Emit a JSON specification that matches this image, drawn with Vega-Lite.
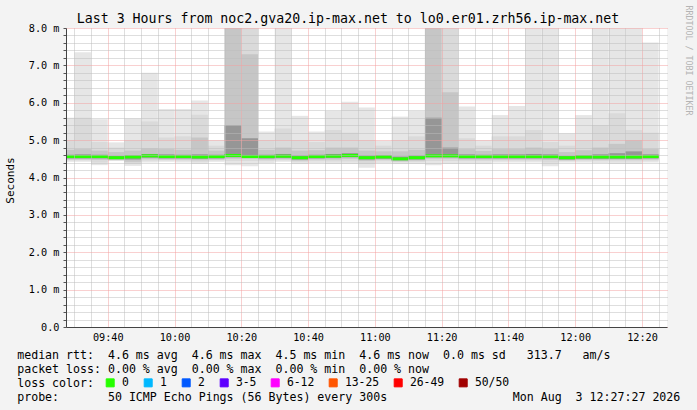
{
  "$schema": "https://vega.github.io/schema/vega-lite/v6.json",
  "width": 601,
  "height": 299,
  "autosize": "none",
  "padding": {"left": 66, "top": 28, "right": 30, "bottom": 83},
  "background": "#f3f3f3",
  "data": {"values": [
    {"t":"2026-08-03T09:25:00","t2":"2026-08-03T09:30:00","mn":4.42,"p10":4.46,"p25":4.48,"p40":4.51,"med":4.56,"p60":4.61,"p75":4.74,"p90":5.00,"mx":5.60,"loss":"0"},
    {"t":"2026-08-03T09:30:00","t2":"2026-08-03T09:35:00","mn":4.42,"p10":4.46,"p25":4.48,"p40":4.51,"med":4.56,"p60":4.62,"p75":4.76,"p90":5.60,"mx":7.35,"loss":"0"},
    {"t":"2026-08-03T09:35:00","t2":"2026-08-03T09:40:00","mn":4.33,"p10":4.40,"p25":4.47,"p40":4.51,"med":4.56,"p60":4.61,"p75":4.72,"p90":4.95,"mx":5.56,"loss":"0"},
    {"t":"2026-08-03T09:40:00","t2":"2026-08-03T09:45:00","mn":4.44,"p10":4.46,"p25":4.47,"p40":4.49,"med":4.53,"p60":4.58,"p75":4.68,"p90":4.80,"mx":4.94,"loss":"0"},
    {"t":"2026-08-03T09:45:00","t2":"2026-08-03T09:50:00","mn":4.31,"p10":4.37,"p25":4.42,"p40":4.48,"med":4.55,"p60":4.60,"p75":4.72,"p90":5.00,"mx":5.58,"loss":"0"},
    {"t":"2026-08-03T09:50:00","t2":"2026-08-03T09:55:00","mn":4.40,"p10":4.45,"p25":4.49,"p40":4.53,"med":4.58,"p60":4.63,"p75":4.78,"p90":5.50,"mx":6.80,"loss":"0"},
    {"t":"2026-08-03T09:55:00","t2":"2026-08-03T10:00:00","mn":4.42,"p10":4.46,"p25":4.48,"p40":4.51,"med":4.56,"p60":4.62,"p75":4.76,"p90":5.07,"mx":5.83,"loss":"0"},
    {"t":"2026-08-03T10:00:00","t2":"2026-08-03T10:05:00","mn":4.40,"p10":4.45,"p25":4.48,"p40":4.51,"med":4.56,"p60":4.61,"p75":4.74,"p90":5.10,"mx":5.83,"loss":"0"},
    {"t":"2026-08-03T10:05:00","t2":"2026-08-03T10:10:00","mn":4.36,"p10":4.42,"p25":4.46,"p40":4.50,"med":4.55,"p60":4.62,"p75":5.07,"p90":5.68,"mx":6.06,"loss":"0"},
    {"t":"2026-08-03T10:10:00","t2":"2026-08-03T10:15:00","mn":4.42,"p10":4.46,"p25":4.48,"p40":4.51,"med":4.56,"p60":4.61,"p75":4.72,"p90":4.85,"mx":5.00,"loss":"0"},
    {"t":"2026-08-03T10:15:00","t2":"2026-08-03T10:20:00","mn":4.33,"p10":4.44,"p25":4.50,"p40":4.54,"med":4.59,"p60":5.40,"p75":9.00,"p90":10.0,"mx":10.0,"loss":"0"},
    {"t":"2026-08-03T10:20:00","t2":"2026-08-03T10:25:00","mn":4.30,"p10":4.44,"p25":4.50,"p40":4.53,"med":4.56,"p60":5.05,"p75":7.30,"p90":10.0,"mx":10.0,"loss":"0"},
    {"t":"2026-08-03T10:25:00","t2":"2026-08-03T10:30:00","mn":4.38,"p10":4.44,"p25":4.48,"p40":4.51,"med":4.56,"p60":4.61,"p75":4.74,"p90":5.00,"mx":5.23,"loss":"0"},
    {"t":"2026-08-03T10:30:00","t2":"2026-08-03T10:35:00","mn":4.42,"p10":4.46,"p25":4.49,"p40":4.52,"med":4.57,"p60":4.63,"p75":4.80,"p90":5.31,"mx":10.0,"loss":"0"},
    {"t":"2026-08-03T10:35:00","t2":"2026-08-03T10:40:00","mn":4.36,"p10":4.42,"p25":4.45,"p40":4.48,"med":4.53,"p60":4.59,"p75":4.72,"p90":5.00,"mx":5.65,"loss":"0"},
    {"t":"2026-08-03T10:40:00","t2":"2026-08-03T10:45:00","mn":4.38,"p10":4.44,"p25":4.48,"p40":4.51,"med":4.56,"p60":4.61,"p75":4.73,"p90":4.95,"mx":5.23,"loss":"0"},
    {"t":"2026-08-03T10:45:00","t2":"2026-08-03T10:50:00","mn":4.36,"p10":4.43,"p25":4.48,"p40":4.52,"med":4.57,"p60":4.63,"p75":4.80,"p90":5.27,"mx":5.78,"loss":"0"},
    {"t":"2026-08-03T10:50:00","t2":"2026-08-03T10:55:00","mn":4.36,"p10":4.43,"p25":4.50,"p40":4.54,"med":4.59,"p60":4.65,"p75":4.80,"p90":5.20,"mx":6.03,"loss":"0"},
    {"t":"2026-08-03T10:55:00","t2":"2026-08-03T11:00:00","mn":4.26,"p10":4.36,"p25":4.44,"p40":4.48,"med":4.53,"p60":4.59,"p75":4.72,"p90":5.00,"mx":5.87,"loss":"0"},
    {"t":"2026-08-03T11:00:00","t2":"2026-08-03T11:05:00","mn":4.38,"p10":4.44,"p25":4.47,"p40":4.50,"med":4.55,"p60":4.60,"p75":4.70,"p90":4.85,"mx":4.98,"loss":"0"},
    {"t":"2026-08-03T11:05:00","t2":"2026-08-03T11:10:00","mn":4.36,"p10":4.41,"p25":4.43,"p40":4.46,"med":4.50,"p60":4.56,"p75":4.70,"p90":5.00,"mx":5.63,"loss":"0"},
    {"t":"2026-08-03T11:10:00","t2":"2026-08-03T11:15:00","mn":4.36,"p10":4.42,"p25":4.45,"p40":4.48,"med":4.53,"p60":4.59,"p75":4.74,"p90":5.10,"mx":5.78,"loss":"0"},
    {"t":"2026-08-03T11:15:00","t2":"2026-08-03T11:20:00","mn":4.33,"p10":4.44,"p25":4.50,"p40":4.54,"med":4.58,"p60":5.60,"p75":9.00,"p90":10.0,"mx":10.0,"loss":"0"},
    {"t":"2026-08-03T11:20:00","t2":"2026-08-03T11:25:00","mn":4.36,"p10":4.44,"p25":4.50,"p40":4.54,"med":4.58,"p60":4.80,"p75":6.28,"p90":10.0,"mx":10.0,"loss":"0"},
    {"t":"2026-08-03T11:25:00","t2":"2026-08-03T11:30:00","mn":4.36,"p10":4.44,"p25":4.48,"p40":4.51,"med":4.56,"p60":4.62,"p75":4.76,"p90":5.05,"mx":5.90,"loss":"0"},
    {"t":"2026-08-03T11:30:00","t2":"2026-08-03T11:35:00","mn":4.36,"p10":4.44,"p25":4.48,"p40":4.51,"med":4.56,"p60":4.61,"p75":4.71,"p90":4.85,"mx":5.00,"loss":"0"},
    {"t":"2026-08-03T11:35:00","t2":"2026-08-03T11:40:00","mn":4.40,"p10":4.45,"p25":4.48,"p40":4.51,"med":4.56,"p60":4.62,"p75":4.76,"p90":5.10,"mx":5.67,"loss":"0"},
    {"t":"2026-08-03T11:40:00","t2":"2026-08-03T11:45:00","mn":4.40,"p10":4.45,"p25":4.48,"p40":4.51,"med":4.56,"p60":4.62,"p75":4.76,"p90":5.10,"mx":5.91,"loss":"0"},
    {"t":"2026-08-03T11:45:00","t2":"2026-08-03T11:50:00","mn":4.40,"p10":4.45,"p25":4.48,"p40":4.51,"med":4.56,"p60":4.63,"p75":4.80,"p90":5.27,"mx":10.0,"loss":"0"},
    {"t":"2026-08-03T11:50:00","t2":"2026-08-03T11:55:00","mn":4.30,"p10":4.40,"p25":4.47,"p40":4.51,"med":4.56,"p60":4.62,"p75":4.76,"p90":4.95,"mx":10.0,"loss":"0"},
    {"t":"2026-08-03T11:55:00","t2":"2026-08-03T12:00:00","mn":4.40,"p10":4.44,"p25":4.46,"p40":4.48,"med":4.53,"p60":4.58,"p75":4.68,"p90":4.85,"mx":5.18,"loss":"0"},
    {"t":"2026-08-03T12:00:00","t2":"2026-08-03T12:05:00","mn":4.40,"p10":4.45,"p25":4.47,"p40":4.50,"med":4.55,"p60":4.60,"p75":4.73,"p90":5.00,"mx":5.67,"loss":"0"},
    {"t":"2026-08-03T12:05:00","t2":"2026-08-03T12:10:00","mn":4.38,"p10":4.44,"p25":4.47,"p40":4.50,"med":4.55,"p60":4.62,"p75":4.80,"p90":5.40,"mx":10.0,"loss":"0"},
    {"t":"2026-08-03T12:10:00","t2":"2026-08-03T12:15:00","mn":4.36,"p10":4.43,"p25":4.47,"p40":4.50,"med":4.55,"p60":4.65,"p75":4.90,"p90":5.72,"mx":10.0,"loss":"0"},
    {"t":"2026-08-03T12:15:00","t2":"2026-08-03T12:20:00","mn":4.36,"p10":4.43,"p25":4.47,"p40":4.50,"med":4.55,"p60":4.70,"p75":5.00,"p90":5.27,"mx":10.0,"loss":"0"},
    {"t":"2026-08-03T12:20:00","t2":"2026-08-03T12:25:00","mn":4.40,"p10":4.45,"p25":4.48,"p40":4.51,"med":4.56,"p60":4.62,"p75":4.76,"p90":5.20,"mx":7.61,"loss":"0"}
  ]},
  "layer": [
    {
      "mark": {"type": "rect", "color": "#e6e6e6", "clip": true},
      "encoding": {
        "x": {
          "field": "t", "type": "temporal",
          "scale": {"domain": [
            {"year": 2026, "month": 8, "date": 3, "hours": 9, "minutes": 27, "seconds": 30},
            {"year": 2026, "month": 8, "date": 3, "hours": 12, "minutes": 27, "seconds": 30}
          ]},
          "axis": {
            "orient": "bottom",
            "values": [
              {"year": 2026, "month": 8, "date": 3, "hours": 9, "minutes": 30},
              {"year": 2026, "month": 8, "date": 3, "hours": 9, "minutes": 35},
              {"year": 2026, "month": 8, "date": 3, "hours": 9, "minutes": 40},
              {"year": 2026, "month": 8, "date": 3, "hours": 9, "minutes": 45},
              {"year": 2026, "month": 8, "date": 3, "hours": 9, "minutes": 50},
              {"year": 2026, "month": 8, "date": 3, "hours": 9, "minutes": 55},
              {"year": 2026, "month": 8, "date": 3, "hours": 10, "minutes": 0},
              {"year": 2026, "month": 8, "date": 3, "hours": 10, "minutes": 5},
              {"year": 2026, "month": 8, "date": 3, "hours": 10, "minutes": 10},
              {"year": 2026, "month": 8, "date": 3, "hours": 10, "minutes": 15},
              {"year": 2026, "month": 8, "date": 3, "hours": 10, "minutes": 20},
              {"year": 2026, "month": 8, "date": 3, "hours": 10, "minutes": 25},
              {"year": 2026, "month": 8, "date": 3, "hours": 10, "minutes": 30},
              {"year": 2026, "month": 8, "date": 3, "hours": 10, "minutes": 35},
              {"year": 2026, "month": 8, "date": 3, "hours": 10, "minutes": 40},
              {"year": 2026, "month": 8, "date": 3, "hours": 10, "minutes": 45},
              {"year": 2026, "month": 8, "date": 3, "hours": 10, "minutes": 50},
              {"year": 2026, "month": 8, "date": 3, "hours": 10, "minutes": 55},
              {"year": 2026, "month": 8, "date": 3, "hours": 11, "minutes": 0},
              {"year": 2026, "month": 8, "date": 3, "hours": 11, "minutes": 5},
              {"year": 2026, "month": 8, "date": 3, "hours": 11, "minutes": 10},
              {"year": 2026, "month": 8, "date": 3, "hours": 11, "minutes": 15},
              {"year": 2026, "month": 8, "date": 3, "hours": 11, "minutes": 20},
              {"year": 2026, "month": 8, "date": 3, "hours": 11, "minutes": 25},
              {"year": 2026, "month": 8, "date": 3, "hours": 11, "minutes": 30},
              {"year": 2026, "month": 8, "date": 3, "hours": 11, "minutes": 35},
              {"year": 2026, "month": 8, "date": 3, "hours": 11, "minutes": 40},
              {"year": 2026, "month": 8, "date": 3, "hours": 11, "minutes": 45},
              {"year": 2026, "month": 8, "date": 3, "hours": 11, "minutes": 50},
              {"year": 2026, "month": 8, "date": 3, "hours": 11, "minutes": 55},
              {"year": 2026, "month": 8, "date": 3, "hours": 12, "minutes": 0},
              {"year": 2026, "month": 8, "date": 3, "hours": 12, "minutes": 5},
              {"year": 2026, "month": 8, "date": 3, "hours": 12, "minutes": 10},
              {"year": 2026, "month": 8, "date": 3, "hours": 12, "minutes": 15},
              {"year": 2026, "month": 8, "date": 3, "hours": 12, "minutes": 20},
              {"year": 2026, "month": 8, "date": 3, "hours": 12, "minutes": 25}
            ],
            "labelExpr": "minutes(datum.value) % 20 === 0 ? timeFormat(datum.value, '%H:%M') : ''",
            "labelOverlap": false,
            "labelFlush": false,
            "labelFont": "DejaVu Sans Mono",
            "labelFontSize": 10.2,
            "labelColor": "#000000",
            "labelPadding": 5,
            "ticks": false,
            "grid": true,
            "gridColor": {"condition": {"test": "minutes(datum.value) % 20 === 0", "value": "#f3a0a0"}, "value": "#bdbdbd"},
            "gridDash": [1, 1],
            "gridWidth": 1,
            "domainColor": "#444444",
            "title": [
              "median\u00a0rtt:\u00a0\u00a04.6\u00a0ms\u00a0avg\u00a0\u00a04.6\u00a0ms\u00a0max\u00a0\u00a04.5\u00a0ms\u00a0min\u00a0\u00a04.6\u00a0ms\u00a0now\u00a0\u00a00.0\u00a0ms\u00a0sd\u00a0\u00a0\u00a0313.7\u00a0\u00a0\u00a0am/s",
              "packet\u00a0loss:\u00a00.00\u00a0%\u00a0avg\u00a0\u00a00.00\u00a0%\u00a0max\u00a0\u00a00.00\u00a0%\u00a0min\u00a0\u00a00.00\u00a0%\u00a0now",
              "loss\u00a0color:",
              "probe:\u00a0\u00a0\u00a0\u00a0\u00a0\u00a0\u00a050\u00a0ICMP\u00a0Echo\u00a0Pings\u00a0(56\u00a0Bytes)\u00a0every\u00a0300s\u00a0\u00a0\u00a0\u00a0\u00a0\u00a0\u00a0\u00a0\u00a0\u00a0\u00a0\u00a0\u00a0\u00a0\u00a0\u00a0\u00a0\u00a0Mon\u00a0Aug\u00a0\u00a03\u00a012:27:27\u00a02026"
            ],
            "titleX": -49.3,
            "titleY": 31.8,
            "titleAlign": "left",
            "titleBaseline": "alphabetic",
            "titleFont": "DejaVu Sans Mono",
            "titleFontSize": 11.6,
            "titleFontWeight": "normal",
            "titleColor": "#000000",
            "titleLineHeight": 13.8,
            "titleLimit": 2000,
            "zindex": 1
          }
        },
        "x2": {"field": "t2"},
        "y": {
          "field": "mn", "type": "quantitative",
          "scale": {"domain": [0, 8], "nice": false},
          "axis": {
            "orient": "left",
            "values": [0,0.2,0.4,0.6,0.8,1,1.2,1.4,1.6,1.8,2,2.2,2.4,2.6,2.8,3,3.2,3.4,3.6,3.8,4,4.2,4.4,4.6,4.8,5,5.2,5.4,5.6,5.8,6,6.2,6.4,6.6,6.8,7,7.2,7.4,7.6,7.8,8],
            "labelExpr": "abs(datum.value - round(datum.value)) < 0.01 ? (datum.value < 0.01 ? '0.0' : format(datum.value, '.1f') + ' m') : ''",
            "labelOverlap": false,
            "labelFlush": false,
            "labelFont": "DejaVu Sans Mono",
            "labelFontSize": 10.2,
            "labelColor": "#000000",
            "labelPadding": 4,
            "ticks": true,
            "tickSize": 3,
            "tickColor": "#555555",
            "grid": true,
            "gridColor": {"condition": {"test": "abs(datum.value - round(datum.value)) < 0.01", "value": "#f3a0a0"}, "value": "#bdbdbd"},
            "gridDash": [1, 1],
            "gridWidth": 1,
            "domainColor": "#444444",
            "title": "Seconds",
            "titleX": -56,
            "titleY": 152,
            "titleAngle": 270,
            "titleAlign": "center",
            "titleBaseline": "middle",
            "titleFont": "DejaVu Sans Mono",
            "titleFontSize": 11,
            "titleFontWeight": "normal",
            "titleColor": "#000000",
            "zindex": 1
          }
        },
        "y2": {"field": "mx"}
      }
    },
    {
      "mark": {"type": "rect", "color": "#dadada", "clip": true},
      "encoding": {
        "x": {"field": "t", "type": "temporal", "axis": null},
        "x2": {"field": "t2"},
        "y": {"field": "p10", "type": "quantitative", "axis": null},
        "y2": {"field": "p90"}
      }
    },
    {
      "mark": {"type": "rect", "color": "#c6c6c6", "clip": true},
      "encoding": {
        "x": {"field": "t", "type": "temporal", "axis": null},
        "x2": {"field": "t2"},
        "y": {"field": "p25", "type": "quantitative", "axis": null},
        "y2": {"field": "p75"}
      }
    },
    {
      "mark": {"type": "rect", "color": "#969696", "clip": true},
      "encoding": {
        "x": {"field": "t", "type": "temporal", "axis": null},
        "x2": {"field": "t2"},
        "y": {"field": "p40", "type": "quantitative", "axis": null},
        "y2": {"field": "p60"}
      }
    },
    {
      "mark": {"type": "rule", "strokeWidth": 3, "clip": true},
      "encoding": {
        "x": {
          "field": "t", "type": "temporal",
          "axis": {
            "orient": "top",
            "domain": false, "ticks": false, "labels": false, "grid": false,
            "title": "Last 3 Hours from noc2.gva20.ip-max.net to lo0.er01.zrh56.ip-max.net",
            "titleX": 281.5,
            "titleY": -9.5,
            "titleAlign": "center",
            "titleBaseline": "middle",
            "titleFont": "DejaVu Sans Mono",
            "titleFontSize": 13.25,
            "titleFontWeight": "normal",
            "titleColor": "#000000",
            "titleLimit": 2000
          }
        },
        "x2": {"field": "t2"},
        "y": {
          "field": "med", "type": "quantitative",
          "axis": {
            "orient": "right",
            "domain": false, "ticks": false, "labels": false, "grid": false,
            "title": "RRDTOOL / TOBI OETIKER",
            "titleX": 20.7,
            "titleY": -23,
            "titleAngle": 90,
            "titleAlign": "left",
            "titleBaseline": "middle",
            "titleFont": "DejaVu Sans Mono",
            "titleFontSize": 8.3,
            "titleFontWeight": "normal",
            "titleColor": "#b4b4b4"
          }
        },
        "color": {
          "field": "loss", "type": "nominal",
          "scale": {
            "domain": ["0", "1", "2", "3-5", "6-12", "13-25", "26-49", "50/50"],
            "range": ["#26ff00", "#00b8ff", "#0059ff", "#5e00ff", "#ff00ff", "#ff5500", "#ff0000", "#a10000"]
          },
          "legend": {
            "orient": "none",
            "legendX": 38.5,
            "legendY": 349,
            "direction": "horizontal",
            "columns": 8,
            "title": null,
            "labelFont": "DejaVu Sans Mono",
            "labelFontSize": 11.4,
            "labelColor": "#000000",
            "labelOffset": 6,
            "symbolType": "square",
            "symbolSize": 64,
            "symbolStrokeWidth": 1,
            "symbolStrokeColor": "#000000",
            "columnPadding": 12,
            "padding": 0,
            "encode": {
              "symbols": {
                "update": {
                  "fill": {"scale": "color", "field": "value"},
                  "stroke": {"value": "#000000"}
                }
              }
            }
          }
        }
      }
    }
  ],
  "resolve": {"axis": {"x": "independent", "y": "independent"}},
  "config": {
    "view": {"stroke": null, "fill": "#ffffff"},
    "font": "DejaVu Sans Mono"
  }
}
